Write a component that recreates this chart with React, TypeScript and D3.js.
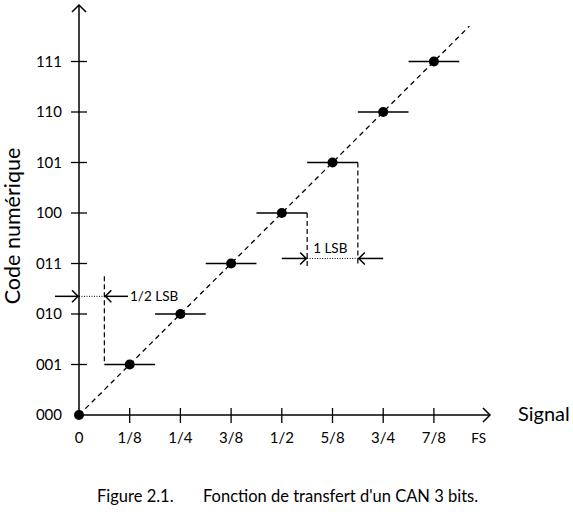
import React from 'react';
import * as d3 from 'd3';

// values in LSB units (1 LSB = FS/8)
const codeLabels = ['000', '001', '010', '011', '100', '101', '110', '111'];
const xTickLabels = ['0', '1/8', '1/4', '3/8', '1/2', '5/8', '3/4', '7/8'];
const stepCodes = [1, 2, 3, 4, 5, 6, 7];
const diagEnd = 7.7;

const W = 573;
const H = 519;
const font = 'Lato, "Open Sans", sans-serif';

const App: React.FC = () => {
  const x = d3.scaleLinear().domain([0, 8]).range([79, 484.6]);
  const y = d3.scaleLinear().domain([0, 8]).range([415, 11]);

  const diag = d3.line<number>().x(d => x(d)).y(d => y(d))([0, diagEnd]) || '';

  const chevron = (px: number, py: number, dir: 'up' | 'right' | 'left', s = 7) => {
    if (dir === 'up') return `M${px - s},${py + s}L${px},${py}L${px + s},${py + s}`;
    if (dir === 'right') return `M${px - s},${py - s}L${px},${py}L${px - s},${py + s}`;
    return `M${px + s},${py - s}L${px},${py}L${px + s},${py + s}`;
  };

  // 1/2 LSB annotation
  const halfY = y(2.35);
  // 1 LSB annotation
  const oneY = y(3.1);

  return (
    <svg width={W} height={H} style={{ position: 'absolute', left: 0, top: 0, background: '#fff' }}>
      {/* axes */}
      <line x1={x(0)} y1={y(0)} x2={x(0)} y2={5} stroke="#000" strokeWidth={1.5} />
      <path d={chevron(x(0), 5, 'up')} fill="none" stroke="#000" strokeWidth={1.5} />
      <line x1={x(0)} y1={y(0)} x2={490} y2={y(0)} stroke="#000" strokeWidth={1.5} />
      <path d={chevron(490, y(0), 'right')} fill="none" stroke="#000" strokeWidth={1.5} />

      {/* y ticks */}
      {codeLabels.map((c, i) => (
        <g key={c}>
          {i > 0 && <line x1={x(0) - 8} x2={x(0) + 8} y1={y(i)} y2={y(i)} stroke="#000" strokeWidth={1.3} />}
          <text x={62} y={y(i)} dy="0.35em" textAnchor="end" fontFamily={font} fontSize={15}>{c}</text>
        </g>
      ))}

      {/* x ticks */}
      {xTickLabels.map((t, i) => (
        <g key={t}>
          {i > 0 && <line x1={x(i)} x2={x(i)} y1={y(0) - 7} y2={y(0) + 8} stroke="#000" strokeWidth={1.3} />}
          <text x={x(i)} y={443} textAnchor="middle" fontFamily={font} fontSize={15}>{t}</text>
        </g>
      ))}
      <text x={x(8) - 6} y={443} textAnchor="middle" fontFamily={font} fontSize={13.5}>FS</text>
      <text x={518} y={421} fontFamily={font} fontSize={20}>Signal</text>
      <text transform={`translate(20,226) rotate(-90)`} textAnchor="middle" fontFamily={font} fontSize={21.5}>Code numérique</text>

      {/* ideal diagonal */}
      <path d={diag} fill="none" stroke="#000" strokeWidth={1.3} strokeDasharray="5,4" />

      {/* steps */}
      {stepCodes.map(k => (
        <g key={k}>
          <line x1={x(k - 0.5)} x2={x(k + 0.5)} y1={y(k)} y2={y(k)} stroke="#000" strokeWidth={1.3} />
          <circle cx={x(k)} cy={y(k)} r={5} fill="#000" />
        </g>
      ))}
      <circle cx={x(0)} cy={y(0)} r={5} fill="#000" />

      {/* 1/2 LSB */}
      <line x1={x(0.5)} x2={x(0.5)} y1={y(2.75)} y2={y(1)} stroke="#000" strokeWidth={1.2} strokeDasharray="5,3" />
      <line x1={x(0)} x2={x(0.5)} y1={halfY} y2={halfY} stroke="#000" strokeWidth={1} strokeDasharray="1,1.5" />
      <line x1={55} x2={x(0)} y1={halfY} y2={halfY} stroke="#000" strokeWidth={1.5} />
      <path d={chevron(x(0) - 1, halfY, 'right', 6)} fill="none" stroke="#000" strokeWidth={1.5} />
      <line x1={x(0.5)} x2={128} y1={halfY} y2={halfY} stroke="#000" strokeWidth={1.5} />
      <path d={chevron(x(0.5) + 1, halfY, 'left', 6)} fill="none" stroke="#000" strokeWidth={1.5} />
      <text x={130} y={halfY} dy="0.35em" fontFamily={font} fontSize={13.5}>1/2 LSB</text>

      {/* 1 LSB */}
      <line x1={x(4.5)} x2={x(4.5)} y1={y(4)} y2={y(2.95)} stroke="#000" strokeWidth={1.2} strokeDasharray="5,3" />
      <line x1={x(5.5)} x2={x(5.5)} y1={y(5)} y2={y(2.95)} stroke="#000" strokeWidth={1.2} strokeDasharray="5,3" />
      <line x1={x(4.5)} x2={x(5.5)} y1={oneY} y2={oneY} stroke="#000" strokeWidth={1} strokeDasharray="1,1.5" />
      <line x1={x(4)} x2={x(4.5)} y1={oneY} y2={oneY} stroke="#000" strokeWidth={1.5} />
      <path d={chevron(x(4.5) - 1, oneY, 'right', 6)} fill="none" stroke="#000" strokeWidth={1.5} />
      <line x1={x(5.5)} x2={x(6)} y1={oneY} y2={oneY} stroke="#000" strokeWidth={1.5} />
      <path d={chevron(x(5.5) + 1, oneY, 'left', 6)} fill="none" stroke="#000" strokeWidth={1.5} />
      <text x={x(4.5) + 6} y={y(3.3)} dy="0.35em" fontFamily={font} fontSize={13.5}>1 LSB</text>

      {/* caption */}
      <text x={97} y={502} fontFamily={font} fontSize={16.5}>Figure 2.1.</text>
      <text x={203} y={502} fontFamily={font} fontSize={16.5}>Fonction de transfert d'un CAN 3 bits.</text>
    </svg>
  );
};

export default App;
